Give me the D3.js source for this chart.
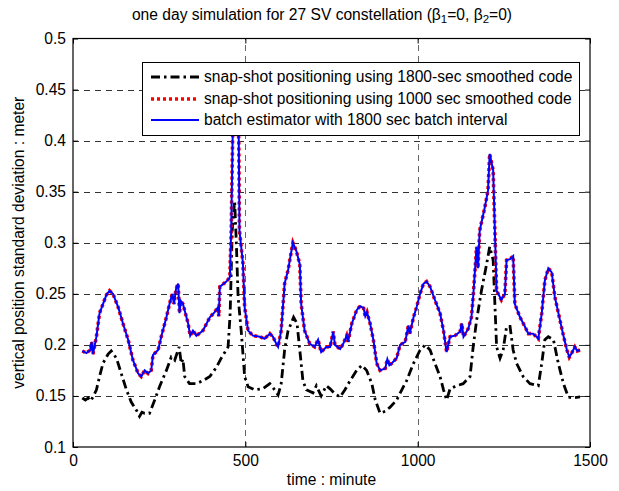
<!DOCTYPE html>
<html>
<head>
<meta charset="utf-8">
<script src="https://cdn.jsdelivr.net/npm/d3@7"></script>
<style>
  html, body { margin: 0; padding: 0; background: #fff; }
  svg { display: block; font-family: "Liberation Sans", Arial, sans-serif; }
</style>
</head>
<body>
<div id="chart"></div>
<script>
const xTicks = [0, 500, 1000, 1500];
const yTicks = [0.1, 0.15, 0.2, 0.25, 0.3, 0.35, 0.4, 0.45, 0.5];

// batch estimator, 1800 sec batch interval (blue)
const batchT = [27, 39, 50, 54, 58, 68, 77, 87, 97, 106, 116, 131, 145, 160, 174, 189, 198, 208, 218, 227,
  232, 247, 256, 271, 280, 288, 293, 299, 305, 309, 313, 319, 334, 340, 348, 358, 377, 397, 411, 421,
  423, 426, 445, 455, 459, 463, 467, 472, 477, 481, 483, 493, 498, 508, 522, 542, 556, 571, 580, 590,
  595, 604, 614, 620, 624, 629, 638, 648, 658, 662, 672, 687, 701, 711, 720, 735, 746, 755, 760, 775,
  784, 794, 798, 809, 823, 833, 843, 848, 853, 862, 872, 881, 891, 906, 912, 918, 925, 939, 949, 964,
  973, 977, 988, 997, 1007, 1017, 1026, 1036, 1050, 1065, 1075, 1084, 1094, 1108, 1123, 1128, 1133, 1147, 1156, 1161,
  1171, 1175, 1180, 1195, 1204, 1209, 1219, 1224, 1229, 1243, 1253, 1258, 1268, 1277, 1282, 1297, 1311, 1321, 1335, 1350,
  1360, 1369, 1379, 1389, 1398, 1413, 1423, 1433, 1440, 1447, 1456, 1463, 1471];
const batchV = [0.194, 0.192, 0.195, 0.203, 0.191, 0.208, 0.231, 0.240, 0.249, 0.253, 0.250, 0.237, 0.221, 0.205, 0.185, 0.172, 0.169, 0.175, 0.172, 0.175,
  0.190, 0.195, 0.208, 0.227, 0.240, 0.250, 0.240, 0.255, 0.260, 0.231, 0.243, 0.240, 0.221, 0.209, 0.214, 0.209, 0.214, 0.227, 0.232, 0.237,
  0.228, 0.257, 0.262, 0.266, 0.312, 0.400, 0.440, 0.445, 0.435, 0.400, 0.312, 0.280, 0.237, 0.214, 0.209, 0.208, 0.206, 0.211, 0.208, 0.201,
  0.198, 0.214, 0.260, 0.268, 0.273, 0.283, 0.300, 0.292, 0.279, 0.240, 0.214, 0.201, 0.198, 0.205, 0.193, 0.198, 0.198, 0.213, 0.200, 0.196,
  0.201, 0.209, 0.203, 0.221, 0.234, 0.238, 0.236, 0.228, 0.232, 0.221, 0.204, 0.182, 0.175, 0.177, 0.186, 0.180, 0.182, 0.187, 0.200, 0.203,
  0.219, 0.211, 0.227, 0.237, 0.250, 0.260, 0.262, 0.257, 0.244, 0.231, 0.214, 0.193, 0.208, 0.209, 0.213, 0.221, 0.208, 0.216, 0.227, 0.247,
  0.296, 0.275, 0.312, 0.335, 0.351, 0.387, 0.371, 0.312, 0.253, 0.244, 0.250, 0.283, 0.284, 0.287, 0.240, 0.227, 0.218, 0.211, 0.211, 0.206,
  0.231, 0.263, 0.275, 0.271, 0.247, 0.224, 0.209, 0.195, 0.188, 0.192, 0.198, 0.194, 0.195];

// snap-shot, 1000 sec smoothed code (red dotted) - lies right on the batch curve
const snap1000T = batchT;
const snap1000V = batchV;

// snap-shot, 1800-sec smoothed code (black dash-dot)
const snap1800T = [27, 36, 44, 51, 58, 68, 77, 87, 102, 111, 126, 140, 155, 169, 184, 193, 200, 208, 222, 237,
  251, 271, 285, 295, 308, 314, 319, 324, 338, 358, 377, 397, 416, 430, 450, 456, 462, 469, 474, 479,
  488, 498, 508, 527, 551, 571, 585, 595, 604, 614, 624, 633, 640, 650, 658, 667, 677, 696, 706, 720,
  735, 746, 760, 775, 789, 804, 823, 838, 852, 867, 877, 891, 906, 920, 939, 954, 968, 988, 1007, 1022,
  1036, 1050, 1065, 1075, 1084, 1094, 1113, 1132, 1152, 1161, 1171, 1185, 1200, 1209, 1219, 1229, 1239, 1248, 1258, 1268,
  1277, 1287, 1306, 1326, 1350, 1360, 1369, 1379, 1394, 1408, 1423, 1437, 1452, 1471];
const snap1800V = [0.148, 0.146, 0.148, 0.145, 0.149, 0.156, 0.169, 0.182, 0.191, 0.194, 0.187, 0.172, 0.156, 0.144, 0.136, 0.130, 0.134, 0.133, 0.133, 0.146,
  0.159, 0.175, 0.188, 0.185, 0.198, 0.182, 0.186, 0.169, 0.162, 0.162, 0.165, 0.169, 0.178, 0.187, 0.198, 0.231, 0.312, 0.341, 0.299, 0.247,
  0.214, 0.169, 0.159, 0.156, 0.157, 0.162, 0.156, 0.151, 0.162, 0.195, 0.214, 0.221, 0.227, 0.221, 0.195, 0.165, 0.156, 0.153, 0.160, 0.150,
  0.160, 0.157, 0.152, 0.149, 0.156, 0.165, 0.175, 0.180, 0.175, 0.162, 0.146, 0.133, 0.135, 0.139, 0.146, 0.156, 0.165, 0.182, 0.195, 0.200,
  0.195, 0.182, 0.169, 0.156, 0.146, 0.157, 0.160, 0.162, 0.169, 0.198, 0.224, 0.253, 0.279, 0.296, 0.283, 0.198, 0.187, 0.195, 0.218, 0.218,
  0.195, 0.182, 0.169, 0.162, 0.160, 0.182, 0.205, 0.208, 0.205, 0.182, 0.162, 0.149, 0.148, 0.149];

const seriesNames = [
  "snap-shot positioning using 1800-sec smoothed code",
  "snap-shot positioning using 1000 sec smoothed code",
  "batch estimator with 1800 sec batch interval"
];

const width = 619, height = 491;
const margin = { top: 38.5, right: 29, bottom: 44, left: 73 };
const fs = "15.6px";

const svg = d3.select("#chart").append("svg")
  .attr("width", width)
  .attr("height", height)
  .style("background", "#fff");

const x = d3.scaleLinear().domain([0, 1500]).range([margin.left, width - margin.right]);
const y = d3.scaleLinear().domain([0.1, 0.5]).range([height - margin.bottom, margin.top]);

const x0 = x.range()[0], x1 = x.range()[1];
const y0 = y.range()[0], y1 = y.range()[1];

// grid
const grid = svg.append("g").attr("stroke", "#333").attr("stroke-width", 1).attr("stroke-dasharray", "6,5");
grid.selectAll(".gy").data(yTicks.slice(1, -1)).join("line")
  .attr("x1", x0).attr("x2", x1)
  .attr("y1", d => Math.round(y(d)) + 0.5).attr("y2", d => Math.round(y(d)) + 0.5);
grid.selectAll(".gx").data(xTicks.slice(1, -1)).join("line")
  .attr("stroke", "#666")
  .attr("y1", y0).attr("y2", y1)
  .attr("x1", d => Math.round(x(d)) + 0.5).attr("x2", d => Math.round(x(d)) + 0.5);

// curves
const line = d3.line().x(d => x(d[0])).y(d => y(d[1]));
const zip = (t, v) => t.map((d, i) => [d, v[i]]);

const styles = [
  { data: zip(snap1800T, snap1800V), color: "#000", w: 2.8, dash: "9,4,2.5,4" },
  { data: zip(snap1000T, snap1000V), color: "#ff0000", w: 3.6, dash: "3,3" },
  { data: zip(batchT, batchV), color: "#0000ff", w: 2, dash: null }
];

svg.append("g").selectAll("path").data(styles).join("path")
  .attr("d", d => line(d.data))
  .attr("fill", "none")
  .attr("stroke", d => d.color)
  .attr("stroke-width", d => d.w)
  .attr("stroke-dasharray", d => d.dash);

// axes (inward ticks on all four sides)
const fmt = d => String(+d.toFixed(2));
const axB = svg.append("g").attr("transform", `translate(0,${y0})`)
  .call(d3.axisBottom(x).tickValues(xTicks).tickSize(-5).tickPadding(8).tickFormat(fmt));
const axT = svg.append("g").attr("transform", `translate(0,${y1})`)
  .call(d3.axisTop(x).tickValues(xTicks).tickSize(-5).tickFormat(""));
const axL = svg.append("g").attr("transform", `translate(${x0},0)`)
  .call(d3.axisLeft(y).tickValues(yTicks).tickSize(-5).tickPadding(7).tickFormat(fmt));
const axR = svg.append("g").attr("transform", `translate(${x1},0)`)
  .call(d3.axisRight(y).tickValues(yTicks).tickSize(-5).tickFormat(""));

[axB, axT, axL, axR].forEach(a => {
  a.selectAll(".domain").remove();
  a.selectAll("line").attr("stroke", "#000");
  a.selectAll("text").attr("fill", "#000").style("font-size", fs).style("font-family", "Liberation Sans, Arial, sans-serif");
});

svg.append("rect")
  .attr("x", x0).attr("y", y1)
  .attr("width", x1 - x0).attr("height", y0 - y1)
  .attr("fill", "none").attr("stroke", "#000").attr("stroke-width", 1.2);

// labels
svg.append("text")
  .attr("x", (x0 + x1) / 2).attr("y", 485)
  .attr("text-anchor", "middle").style("font-size", fs)
  .text("time : minute");

svg.append("text")
  .attr("transform", `translate(24,${(y0 + y1) / 2}) rotate(-90)`)
  .attr("text-anchor", "middle").style("font-size", fs)
  .text("vertical position standard deviation : meter");

const title = svg.append("text")
  .attr("x", 322).attr("y", 20)
  .attr("text-anchor", "middle").style("font-size", fs);
title.append("tspan").text("one day simulation for 27 SV constellation (\u03b2");
title.append("tspan").attr("baseline-shift", "-25%").style("font-size", "11.5px").text("1");
title.append("tspan").text("=0, \u03b2");
title.append("tspan").attr("baseline-shift", "-25%").style("font-size", "11.5px").text("2");
title.append("tspan").text("=0)");

// legend
const lg = svg.append("g");
lg.append("rect")
  .attr("x", 142.5).attr("y", 62.5).attr("width", 437).attr("height", 73)
  .attr("fill", "#fff").attr("stroke", "#000").attr("stroke-width", 1);
const rowY = [77, 99, 120];
styles.forEach((s, i) => {
  lg.append("line")
    .attr("x1", 151).attr("x2", 199)
    .attr("y1", rowY[i]).attr("y2", rowY[i])
    .attr("stroke", s.color).attr("stroke-width", s.w)
    .attr("stroke-dasharray", s.dash);
  lg.append("text")
    .attr("x", 204).attr("y", rowY[i]).attr("dy", "0.35em")
    .style("font-size", fs)
    .text(seriesNames[i]);
});
</script>
</body>
</html>
